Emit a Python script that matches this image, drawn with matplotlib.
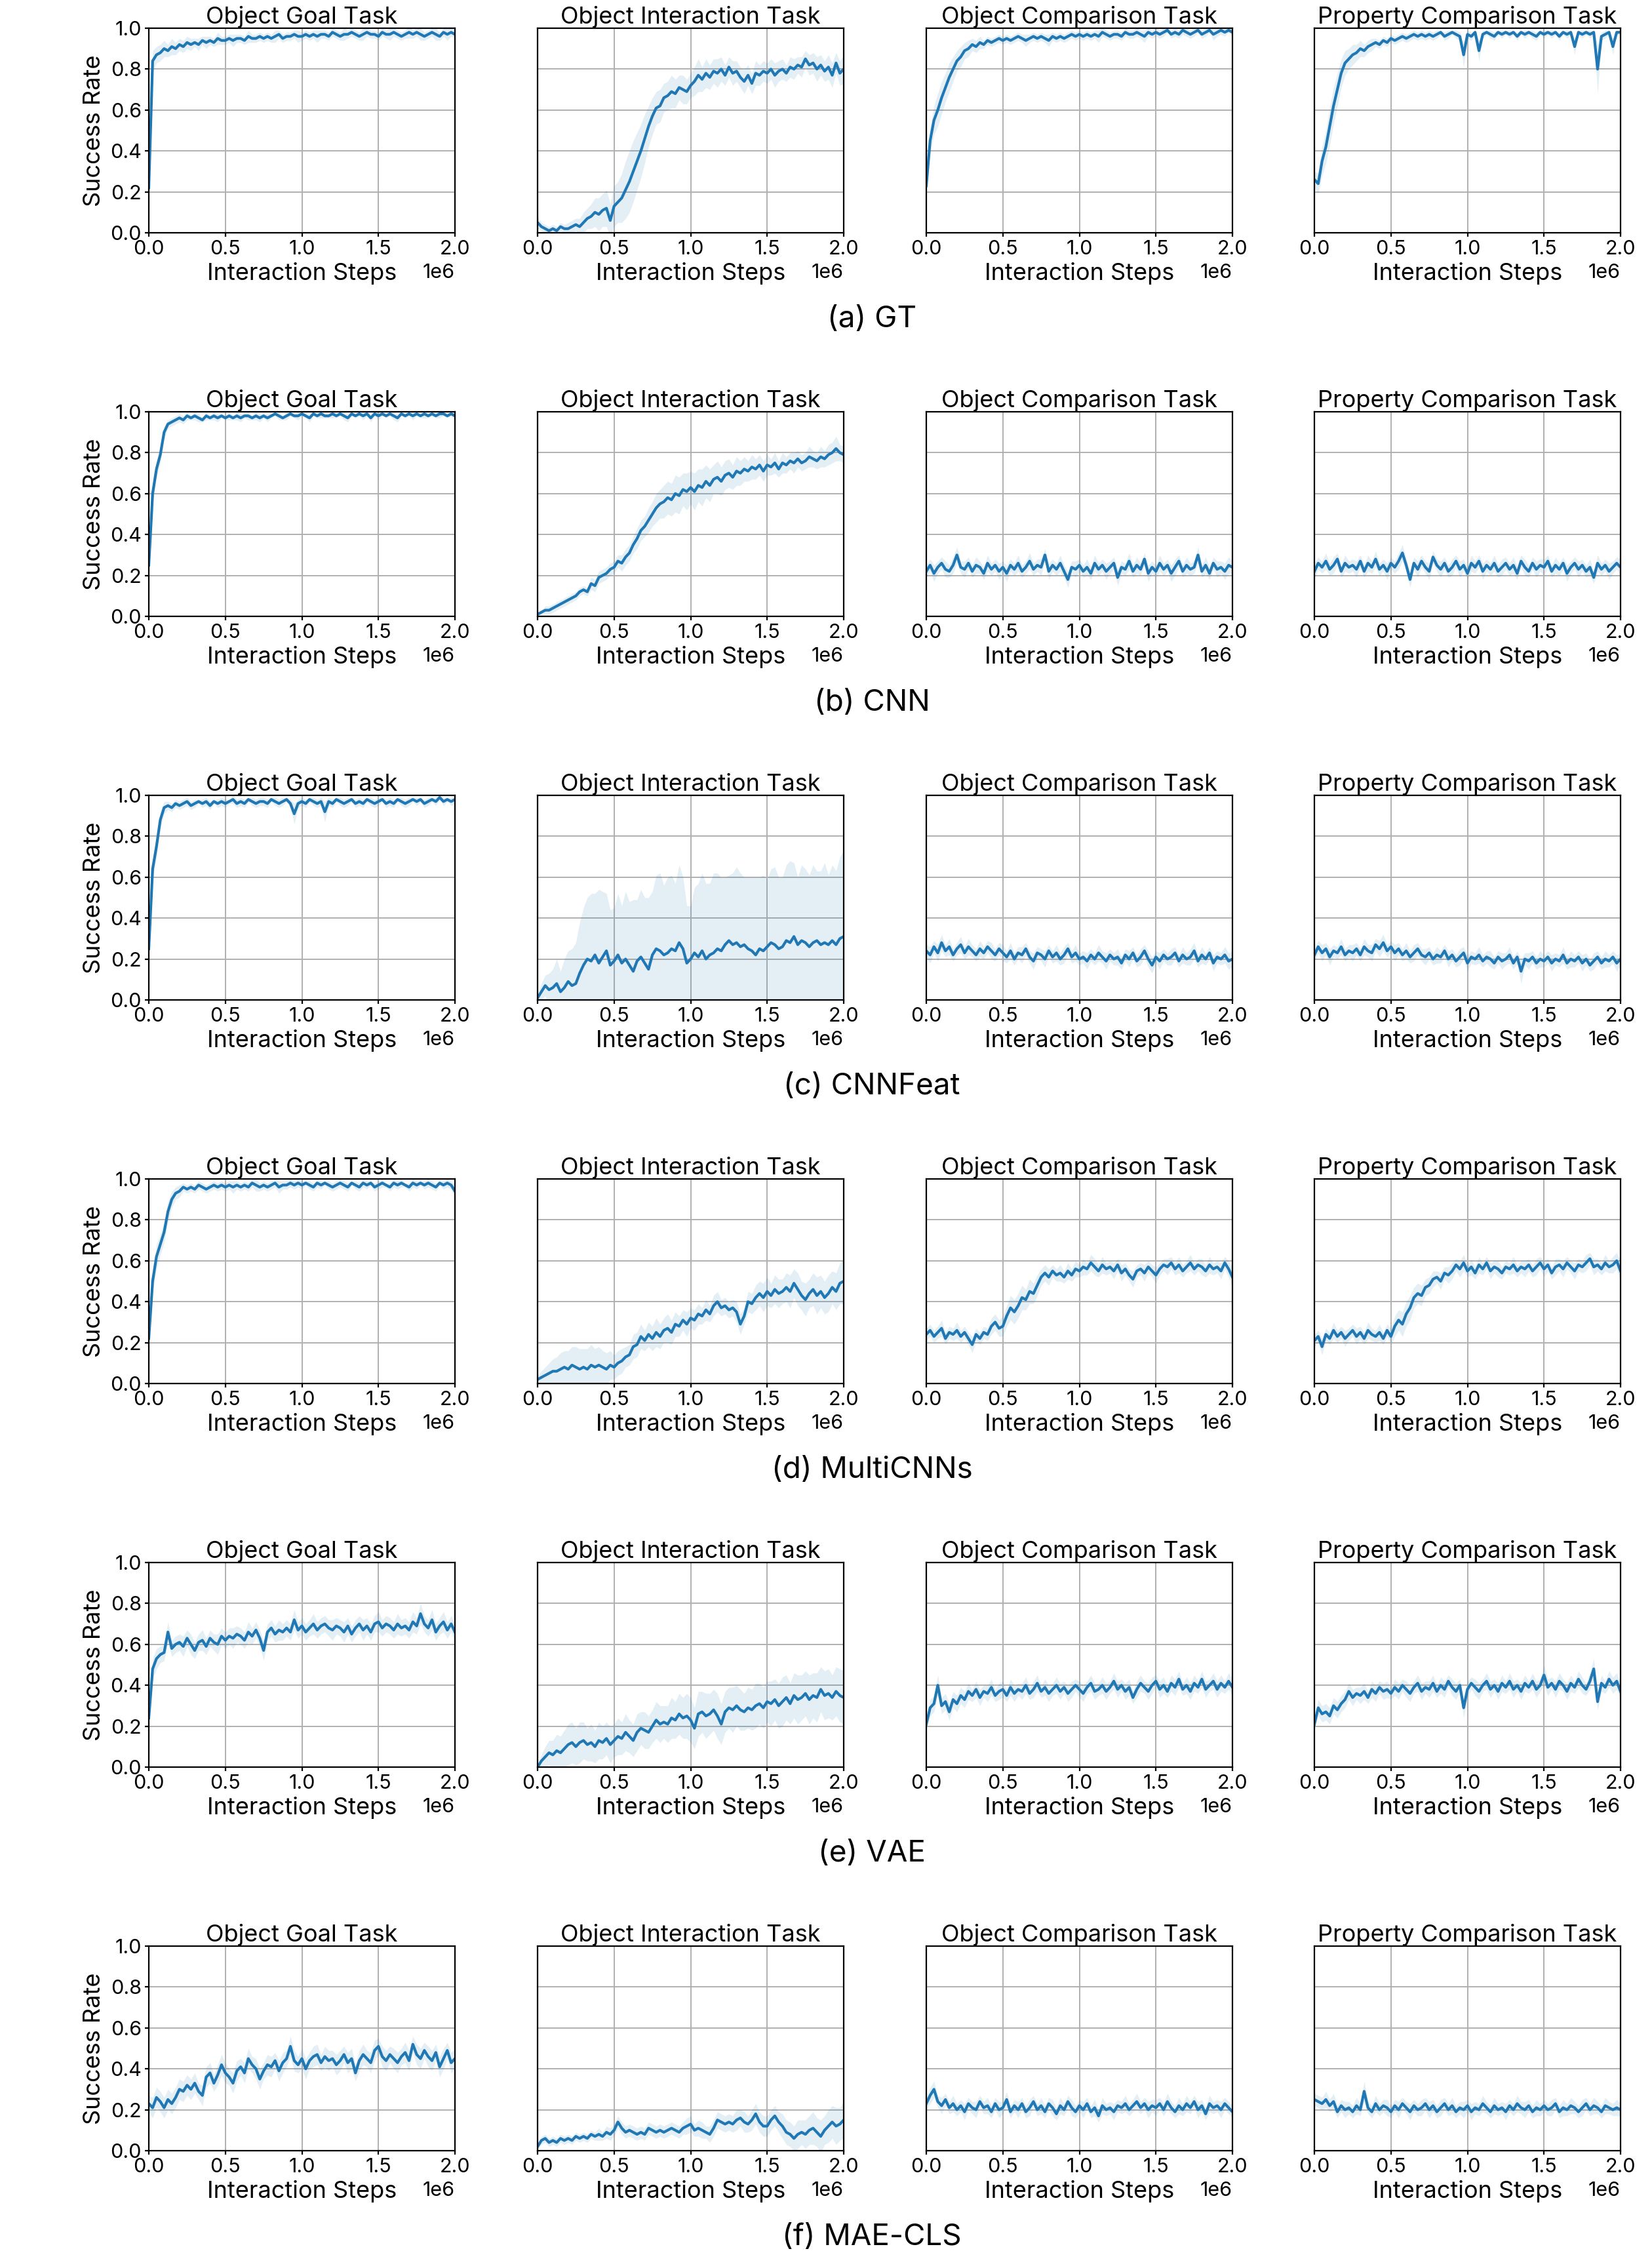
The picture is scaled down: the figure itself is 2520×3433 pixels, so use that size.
import numpy as np
import matplotlib
matplotlib.use("Agg")
import matplotlib.pyplot as plt

plt.rcParams['font.family'] = ['Inter', 'DejaVu Sans']

TASKS = ["Object Goal Task", "Object Interaction Task",
         "Object Comparison Task", "Property Comparison Task"]
MODELS = ["(a) GT", "(b) CNN", "(c) CNNFeat", "(d) MultiCNNs", "(e) VAE", "(f) MAE-CLS"]
X_MAX = 2e6
X_TICKS = [0, 0.5e6, 1.0e6, 1.5e6, 2.0e6]
Y_TICKS = [0.0, 0.2, 0.4, 0.6, 0.8, 1.0]

# ---------------- (a) GT ----------------
gt_goal = [.22,.84,.87,.88,.90,.89,.91,.90,.92,.91,
           .93,.92,.93,.92,.94,.93,.94,.93,.95,.94,
           .94,.95,.94,.95,.95,.94,.96,.95,.95,.96,
           .95,.96,.95,.96,.97,.95,.96,.96,.97,.96,
           .96,.97,.96,.97,.96,.97,.97,.96,.98,.97,
           .96,.97,.97,.98,.97,.96,.97,.98,.97,.97,
           .96,.98,.97,.97,.98,.97,.96,.97,.98,.97,
           .98,.97,.96,.97,.98,.97,.96,.98,.97,.98,
           .97]
gt_goal_sd = [.05,.05,.04,.04,.04,.03,.04,.03,.03,.03,
              .03,.03,.02,.03,.02,.03,.02,.02,.03,.02,
              .02,.02,.03,.02,.02,.02,.03,.02,.02,.02,
              .02,.02,.02,.03,.02,.02,.02,.02,.02,.03,
              .02,.02,.02,.02,.03,.02,.02,.02,.02,.02,
              .02,.03,.02,.02,.02,.02,.03,.02,.02,.02,
              .02,.02,.02,.03,.02,.02,.02,.02,.03,.02,
              .02,.03,.02,.02,.02,.03,.02,.02,.03,.02,
              .02]
gt_inter = [.05,.03,.02,.01,.02,.01,.03,.02,.02,.03,
            .04,.03,.05,.07,.08,.10,.09,.11,.12,.06,
            .13,.15,.17,.21,.25,.30,.35,.40,.46,.52,
            .57,.61,.62,.66,.67,.69,.68,.71,.70,.69,
            .72,.74,.77,.75,.78,.76,.79,.78,.80,.77,
            .81,.78,.79,.76,.74,.77,.73,.78,.77,.79,
            .78,.80,.77,.79,.80,.78,.81,.80,.82,.81,
            .85,.82,.83,.80,.82,.79,.81,.77,.83,.78,
            .80]
gt_inter_sd = [.03,.02,.02,.02,.02,.02,.02,.02,.03,.03,
               .03,.04,.05,.05,.06,.07,.08,.08,.09,.08,
               .10,.10,.12,.14,.15,.15,.14,.13,.12,.10,
               .09,.08,.08,.07,.07,.08,.07,.06,.07,.06,
               .06,.07,.08,.06,.07,.06,.06,.07,.06,.05,
               .05,.06,.05,.05,.06,.05,.05,.06,.05,.05,
               .05,.05,.06,.05,.05,.04,.05,.05,.04,.05,
               .04,.05,.05,.06,.05,.05,.06,.06,.05,.06,
               .07]
gt_objcmp = [.23,.45,.55,.60,.66,.71,.76,.80,.84,.86,
             .89,.90,.92,.91,.93,.92,.94,.93,.94,.95,
             .94,.95,.94,.95,.96,.95,.94,.95,.96,.95,
             .96,.95,.94,.96,.95,.96,.95,.96,.97,.96,
             .97,.96,.97,.96,.97,.96,.98,.97,.96,.97,
             .97,.96,.98,.97,.97,.98,.97,.96,.98,.97,
             .98,.97,.98,.99,.97,.98,.97,.99,.98,.97,
             .98,.99,.97,.98,.99,.97,.98,.99,.98,.99,
             .98]
gt_objcmp_sd = [.03,.06,.07,.08,.08,.07,.07,.06,.05,.05,
                .04,.04,.03,.03,.03,.02,.02,.02,.02,.02,
                .02,.02,.02,.02,.02,.02,.03,.02,.02,.02,
                .02,.02,.03,.02,.02,.02,.02,.02,.02,.02,
                .02,.02,.02,.02,.02,.03,.02,.02,.02,.02,
                .02,.02,.02,.02,.02,.02,.02,.03,.02,.02,
                .02,.02,.02,.01,.02,.02,.02,.02,.02,.02,
                .02,.01,.02,.02,.01,.03,.02,.02,.02,.01,
                .02]
gt_propcmp = [.26,.24,.35,.42,.52,.62,.70,.78,.83,.85,
              .87,.88,.90,.89,.91,.92,.93,.92,.94,.93,
              .95,.94,.95,.96,.95,.96,.97,.96,.97,.96,
              .97,.96,.97,.98,.96,.97,.98,.97,.96,.87,
              .97,.96,.98,.89,.97,.98,.97,.96,.98,.97,
              .98,.97,.98,.96,.98,.97,.98,.97,.96,.98,
              .97,.98,.97,.98,.96,.98,.97,.98,.91,.98,
              .97,.98,.97,.98,.80,.96,.97,.98,.91,.98,
              .98]
gt_propcmp_sd = [.04,.05,.07,.08,.09,.09,.08,.07,.06,.05,
                 .05,.04,.04,.03,.03,.03,.02,.02,.02,.02,
                 .02,.02,.02,.02,.02,.02,.02,.02,.02,.02,
                 .02,.02,.02,.01,.02,.02,.01,.02,.02,.06,
                 .02,.02,.01,.05,.02,.01,.02,.02,.01,.02,
                 .01,.02,.01,.02,.01,.02,.01,.02,.02,.01,
                 .02,.01,.02,.01,.02,.01,.02,.01,.04,.01,
                 .02,.01,.02,.01,.12,.02,.02,.01,.04,.01,
                 .01]

# ---------------- (b) CNN ----------------
cnn_goal = [.25,.60,.72,.79,.90,.94,.95,.96,.97,.96,
            .98,.97,.98,.97,.96,.98,.97,.98,.97,.98,
            .97,.98,.97,.98,.97,.98,.98,.97,.98,.97,
            .98,.97,.98,.99,.98,.97,.98,.99,.98,.98,
            .99,.98,.97,.99,.98,.99,.98,.98,.99,.98,
            .99,.98,.97,.99,.98,.99,.98,.99,.97,.99,
            .98,.99,.98,.99,.98,.97,.99,.98,.99,.98,
            .99,.98,.99,.98,.99,.98,.99,.99,.98,.99,
            .98]
cnn_goal_sd = [.03,.04,.04,.04,.03,.02,.02,.02,.02,.02,
               .02,.01,.02,.02,.01,.02,.01,.02,.02,.01,
               .01,.02,.01,.02,.02,.01,.02,.01,.02,.02,
               .01,.02,.01,.01,.02,.01,.02,.01,.01,.02,
               .01,.01,.02,.01,.01,.02,.01,.01,.02,.01,
               .01,.02,.02,.01,.01,.01,.02,.01,.02,.01,
               .02,.01,.01,.01,.02,.02,.01,.01,.01,.02,
               .01,.01,.02,.01,.01,.01,.02,.01,.01,.01,
               .02]
cnn_inter = [.01,.02,.03,.03,.04,.05,.06,.07,.08,.09,
             .10,.12,.13,.12,.16,.15,.19,.20,.21,.23,
             .24,.27,.26,.29,.31,.35,.38,.42,.44,.47,
             .50,.53,.55,.56,.58,.57,.60,.59,.62,.61,
             .63,.61,.64,.63,.66,.64,.67,.68,.66,.69,
             .70,.68,.71,.70,.72,.71,.73,.72,.74,.71,
             .74,.73,.75,.72,.75,.74,.76,.75,.77,.75,
             .76,.78,.77,.76,.78,.77,.79,.80,.82,.80,
             .79]
cnn_inter_sd = [.01,.01,.02,.02,.02,.02,.02,.02,.02,.02,
                .02,.02,.02,.02,.03,.03,.03,.03,.03,.03,
                .03,.03,.04,.04,.04,.04,.05,.05,.05,.06,
                .06,.07,.07,.08,.08,.08,.09,.09,.08,.09,
                .08,.09,.08,.09,.08,.08,.07,.08,.07,.07,
                .07,.06,.07,.06,.06,.05,.06,.05,.05,.05,
                .05,.04,.05,.04,.05,.04,.04,.05,.04,.04,
                .04,.05,.04,.04,.05,.04,.05,.05,.06,.04,
                .04]
cnn_objcmp = [.22,.25,.21,.24,.26,.23,.22,.25,.30,.24,
              .23,.26,.22,.25,.24,.21,.26,.23,.25,.22,
              .24,.21,.25,.23,.26,.22,.24,.27,.23,.25,
              .24,.30,.22,.25,.23,.26,.22,.18,.24,.23,
              .25,.22,.24,.21,.26,.23,.25,.22,.24,.26,
              .19,.24,.23,.27,.22,.25,.23,.28,.21,.24,
              .22,.26,.23,.25,.21,.24,.27,.22,.25,.23,
              .24,.30,.22,.25,.21,.26,.23,.24,.22,.25,
              .24]
cnn_objcmp_sd = [.03,.03,.04,.03,.03,.04,.03,.04,.04,.03,
                 .04,.03,.03,.04,.03,.03,.04,.03,.03,.04,
                 .03,.04,.03,.03,.04,.03,.03,.04,.03,.03,
                 .04,.03,.04,.03,.03,.04,.03,.04,.03,.04,
                 .03,.03,.04,.03,.04,.03,.03,.04,.03,.03,
                 .04,.03,.03,.04,.03,.04,.03,.03,.04,.03,
                 .03,.04,.03,.03,.04,.04,.03,.03,.04,.03,
                 .03,.04,.03,.04,.03,.03,.04,.03,.04,.04,
                 .03]
cnn_propcmp = [.22,.26,.24,.27,.23,.25,.28,.22,.26,.24,
               .25,.23,.27,.22,.26,.24,.28,.23,.25,.22,
               .26,.24,.27,.31,.25,.18,.26,.23,.27,.24,
               .22,.29,.25,.23,.26,.22,.24,.27,.23,.25,
               .21,.26,.24,.27,.22,.25,.23,.26,.22,.24,
               .26,.23,.25,.21,.27,.24,.22,.26,.23,.25,
               .24,.27,.22,.25,.23,.26,.21,.24,.26,.23,
               .25,.22,.24,.19,.26,.23,.25,.22,.24,.26,
               .24]
cnn_propcmp_sd = [.04,.03,.03,.04,.03,.04,.03,.03,.04,.03,
                  .03,.04,.03,.03,.04,.03,.04,.03,.03,.04,
                  .03,.03,.04,.04,.03,.04,.03,.04,.03,.03,
                  .04,.03,.03,.04,.03,.03,.04,.03,.04,.03,
                  .03,.04,.03,.03,.04,.03,.03,.04,.03,.04,
                  .03,.03,.04,.03,.03,.04,.03,.03,.04,.03,
                  .04,.03,.03,.04,.03,.03,.04,.03,.03,.04,
                  .03,.03,.04,.03,.04,.03,.03,.04,.03,.03,
                  .04]

# ---------------- (c) CNNFeat ----------------
feat_goal = [.25,.64,.75,.88,.94,.95,.94,.96,.95,.96,
             .97,.95,.96,.97,.96,.97,.95,.97,.96,.97,
             .96,.97,.98,.96,.97,.96,.98,.97,.96,.97,
             .97,.96,.98,.97,.96,.97,.98,.96,.91,.96,
             .97,.96,.98,.97,.96,.97,.92,.97,.96,.98,
             .97,.96,.97,.98,.96,.97,.96,.98,.97,.96,
             .97,.98,.96,.97,.96,.98,.97,.96,.97,.98,
             .97,.98,.96,.97,.98,.97,.99,.97,.98,.97,
             .98]
feat_goal_sd = [.03,.05,.05,.04,.03,.02,.02,.02,.02,.02,
                .02,.02,.02,.01,.02,.02,.02,.01,.02,.02,
                .02,.01,.02,.02,.02,.02,.01,.02,.02,.02,
                .02,.02,.01,.02,.02,.02,.01,.02,.05,.02,
                .02,.02,.01,.02,.02,.02,.05,.02,.02,.01,
                .02,.02,.02,.01,.02,.02,.02,.01,.02,.02,
                .02,.01,.02,.02,.02,.01,.02,.02,.02,.01,
                .02,.01,.02,.02,.01,.02,.01,.02,.01,.02,
                .02]
feat_inter = [.01,.04,.07,.05,.06,.08,.04,.06,.09,.07,
              .08,.13,.17,.20,.19,.22,.18,.21,.24,.17,
              .19,.22,.18,.20,.17,.14,.19,.21,.18,.15,
              .22,.25,.24,.22,.23,.25,.24,.28,.25,.18,
              .20,.23,.21,.24,.20,.22,.23,.25,.24,.27,
              .29,.27,.28,.26,.27,.25,.24,.22,.25,.24,
              .26,.28,.27,.25,.26,.29,.28,.31,.27,.29,
              .28,.26,.28,.29,.27,.28,.27,.29,.27,.30,
              .31]
feat_inter_sd = [.02,.04,.05,.08,.09,.12,.10,.14,.15,.18,
                 .20,.25,.28,.30,.33,.30,.36,.32,.28,.27,
                 .26,.30,.28,.33,.31,.35,.30,.33,.32,.35,
                 .31,.36,.38,.34,.37,.36,.33,.38,.35,.28,
                 .26,.32,.36,.38,.37,.35,.39,.37,.36,.33,
                 .32,.35,.37,.36,.33,.35,.36,.38,.35,.37,
                 .33,.36,.38,.35,.34,.37,.40,.36,.33,.37,
                 .36,.35,.38,.34,.36,.39,.34,.37,.36,.40,
                 .42]
feat_objcmp = [.24,.22,.26,.23,.28,.24,.26,.22,.25,.27,
               .23,.26,.24,.22,.25,.23,.26,.24,.22,.25,
               .23,.21,.24,.20,.23,.22,.25,.21,.19,.23,
               .22,.20,.24,.21,.23,.20,.22,.25,.21,.23,
               .20,.21,.19,.22,.20,.23,.21,.19,.22,.20,
               .21,.18,.22,.20,.23,.19,.21,.24,.20,.17,
               .21,.19,.22,.20,.21,.23,.19,.22,.20,.21,
               .24,.19,.22,.20,.23,.18,.21,.20,.22,.19,
               .20]
feat_objcmp_sd = [.03,.04,.03,.04,.04,.03,.04,.03,.03,.04,
                  .03,.04,.03,.03,.04,.03,.03,.04,.03,.03,
                  .04,.03,.04,.03,.03,.04,.03,.03,.04,.03,
                  .03,.04,.03,.03,.04,.03,.04,.03,.03,.04,
                  .03,.03,.04,.03,.03,.04,.03,.04,.03,.03,
                  .04,.03,.03,.04,.03,.03,.04,.03,.04,.04,
                  .03,.04,.03,.03,.04,.03,.03,.04,.03,.04,
                  .04,.03,.04,.03,.03,.04,.03,.03,.04,.04,
                  .04]
feat_propcmp = [.22,.26,.23,.25,.21,.24,.23,.26,.22,.24,
                .23,.25,.22,.26,.24,.23,.27,.25,.28,.24,
                .26,.23,.25,.22,.24,.21,.23,.25,.22,.21,
                .23,.20,.22,.21,.24,.20,.22,.19,.21,.23,
                .18,.21,.20,.22,.19,.21,.20,.18,.21,.19,
                .20,.22,.18,.21,.14,.20,.19,.21,.18,.20,
                .19,.21,.18,.20,.19,.22,.18,.20,.19,.21,
                .18,.20,.17,.19,.21,.18,.20,.19,.21,.18,
                .20]
feat_propcmp_sd = [.03,.03,.04,.03,.04,.03,.03,.04,.03,.03,
                   .04,.03,.03,.04,.03,.04,.03,.04,.04,.03,
                   .03,.04,.03,.03,.04,.03,.04,.03,.03,.04,
                   .03,.03,.04,.03,.03,.04,.03,.03,.04,.03,
                   .04,.03,.03,.04,.03,.03,.04,.03,.03,.04,
                   .03,.04,.03,.03,.06,.03,.04,.03,.03,.04,
                   .03,.03,.04,.03,.03,.04,.03,.04,.03,.03,
                   .04,.03,.03,.04,.03,.03,.04,.03,.03,.04,
                   .03]

# ---------------- (d) MultiCNNs ----------------
multi_goal = [.22,.50,.62,.68,.74,.84,.90,.93,.94,.96,
              .95,.96,.95,.97,.96,.95,.96,.97,.96,.97,
              .96,.97,.96,.97,.96,.97,.96,.98,.97,.96,
              .97,.96,.97,.98,.96,.97,.97,.98,.97,.98,
              .97,.98,.97,.96,.98,.97,.98,.97,.96,.97,
              .98,.97,.96,.98,.97,.96,.98,.97,.98,.96,
              .97,.98,.97,.96,.98,.97,.98,.97,.96,.98,
              .97,.98,.97,.98,.97,.96,.98,.97,.98,.97,
              .94]
multi_goal_sd = [.04,.05,.06,.05,.05,.05,.04,.03,.03,.02,
                 .02,.02,.02,.02,.02,.02,.02,.02,.02,.02,
                 .02,.02,.03,.02,.02,.02,.02,.02,.03,.02,
                 .02,.02,.02,.02,.03,.02,.02,.02,.02,.02,
                 .02,.01,.02,.02,.02,.02,.01,.02,.02,.02,
                 .02,.02,.02,.01,.02,.02,.02,.02,.01,.02,
                 .02,.02,.01,.02,.02,.02,.02,.01,.02,.02,
                 .02,.01,.02,.02,.02,.02,.01,.02,.02,.02,
                 .03]
multi_inter = [.02,.03,.04,.05,.06,.06,.07,.08,.07,.09,
               .08,.07,.08,.07,.09,.08,.09,.08,.07,.09,
               .08,.10,.11,.13,.14,.18,.19,.23,.21,.24,
               .22,.25,.23,.26,.27,.25,.29,.28,.31,.29,
               .32,.31,.34,.33,.36,.34,.38,.40,.37,.38,
               .36,.37,.35,.29,.33,.40,.39,.42,.44,.42,
               .45,.43,.46,.44,.45,.47,.45,.49,.46,.43,
               .41,.44,.46,.43,.45,.42,.44,.47,.45,.49,
               .50]
multi_inter_sd = [.02,.03,.04,.05,.06,.07,.08,.08,.09,.09,
                  .10,.10,.09,.10,.10,.09,.09,.08,.08,.07,
                  .06,.06,.06,.05,.05,.06,.06,.06,.05,.06,
                  .06,.07,.06,.06,.07,.06,.06,.05,.05,.06,
                  .05,.05,.05,.04,.05,.04,.05,.05,.04,.04,
                  .04,.04,.05,.05,.04,.05,.05,.06,.06,.07,
                  .07,.06,.07,.07,.06,.07,.08,.07,.08,.07,
                  .08,.07,.08,.09,.08,.08,.09,.08,.09,.10,
                  .11]
multi_objcmp = [.24,.26,.23,.25,.27,.22,.25,.24,.26,.23,
                .25,.22,.19,.24,.22,.25,.24,.28,.30,.27,
                .28,.33,.37,.35,.38,.42,.41,.45,.44,.48,
                .52,.54,.52,.55,.53,.54,.52,.55,.53,.56,
                .55,.57,.56,.59,.57,.55,.58,.56,.57,.55,
                .58,.54,.56,.53,.51,.55,.56,.54,.57,.55,
                .53,.56,.58,.57,.59,.56,.58,.55,.57,.59,
                .56,.58,.57,.55,.58,.56,.57,.55,.59,.56,
                .52]
multi_objcmp_sd = [.03,.03,.03,.03,.04,.03,.03,.03,.04,.03,
                   .03,.03,.04,.03,.03,.03,.03,.04,.04,.04,
                   .05,.05,.06,.06,.06,.06,.05,.06,.05,.05,
                   .04,.04,.04,.03,.03,.04,.03,.04,.03,.04,
                   .03,.04,.03,.04,.04,.03,.04,.03,.03,.04,
                   .03,.04,.03,.03,.04,.03,.03,.04,.03,.03,
                   .04,.03,.03,.04,.03,.03,.04,.03,.03,.04,
                   .03,.03,.04,.03,.04,.03,.03,.04,.03,.04,
                   .05]
multi_propcmp = [.21,.23,.18,.24,.22,.26,.23,.25,.22,.24,
                 .26,.23,.25,.22,.26,.24,.23,.25,.22,.26,
                 .23,.28,.31,.29,.34,.37,.42,.44,.43,.47,
                 .48,.51,.52,.50,.54,.53,.55,.58,.56,.59,
                 .55,.57,.54,.58,.56,.59,.55,.57,.56,.54,
                 .57,.56,.58,.55,.57,.56,.58,.55,.57,.59,
                 .56,.58,.54,.57,.58,.56,.59,.57,.55,.58,
                 .57,.59,.61,.57,.58,.56,.59,.57,.58,.60,
                 .55]
multi_propcmp_sd = [.03,.03,.04,.03,.03,.04,.03,.03,.04,.03,
                    .03,.04,.03,.03,.04,.03,.03,.04,.03,.03,
                    .04,.05,.05,.06,.06,.06,.05,.05,.05,.04,
                    .04,.04,.03,.04,.03,.04,.04,.03,.04,.04,
                    .03,.04,.03,.04,.03,.03,.04,.03,.04,.03,
                    .03,.03,.04,.03,.03,.04,.03,.03,.04,.03,
                    .04,.03,.03,.04,.03,.04,.03,.03,.04,.03,
                    .03,.04,.03,.04,.03,.03,.04,.03,.04,.04,
                    .05]

# ---------------- (e) VAE ----------------
vae_goal = [.24,.48,.53,.55,.56,.66,.58,.60,.61,.59,
            .63,.60,.57,.61,.62,.59,.63,.61,.60,.64,
            .62,.64,.63,.65,.64,.62,.66,.64,.67,.63,
            .57,.66,.68,.65,.67,.66,.68,.66,.72,.67,
            .69,.66,.68,.70,.67,.69,.70,.68,.67,.69,
            .68,.66,.69,.65,.68,.70,.67,.69,.66,.70,
            .71,.68,.70,.69,.67,.70,.68,.69,.67,.71,
            .69,.75,.70,.68,.72,.66,.69,.71,.67,.70,
            .66]
vae_goal_sd = [.03,.05,.05,.04,.04,.05,.04,.04,.04,.05,
               .04,.05,.04,.04,.05,.04,.04,.04,.05,.04,
               .04,.04,.05,.04,.04,.04,.05,.04,.04,.04,
               .05,.04,.04,.04,.05,.04,.04,.04,.05,.04,
               .04,.04,.04,.05,.04,.04,.04,.04,.05,.04,
               .04,.05,.04,.04,.04,.04,.05,.04,.04,.04,
               .05,.04,.04,.04,.04,.05,.04,.04,.04,.05,
               .04,.05,.04,.04,.05,.04,.04,.05,.04,.04,
               .04]
vae_inter = [.00,.03,.05,.07,.06,.08,.07,.09,.11,.12,
             .10,.12,.13,.11,.12,.10,.13,.12,.14,.11,
             .13,.15,.14,.17,.15,.13,.17,.19,.18,.17,
             .20,.23,.21,.22,.21,.24,.23,.26,.24,.25,
             .23,.19,.26,.27,.25,.26,.28,.25,.21,.27,
             .29,.28,.30,.28,.27,.29,.28,.30,.31,.29,
             .32,.31,.33,.30,.32,.34,.31,.35,.33,.34,
             .36,.33,.35,.34,.38,.35,.36,.34,.37,.35,
             .34]
vae_inter_sd = [.01,.03,.05,.06,.07,.08,.08,.09,.10,.10,
                .09,.10,.09,.08,.09,.08,.09,.08,.08,.09,
                .08,.09,.08,.09,.08,.08,.09,.08,.09,.08,
                .08,.09,.09,.08,.09,.10,.09,.10,.10,.11,
                .11,.10,.11,.10,.11,.10,.10,.11,.10,.10,
                .10,.11,.10,.10,.09,.10,.10,.11,.10,.10,
                .10,.11,.10,.11,.12,.11,.10,.11,.12,.11,
                .11,.12,.11,.12,.11,.12,.12,.11,.12,.13,
                .13]
vae_objcmp = [.21,.29,.31,.40,.30,.32,.27,.33,.31,.35,
              .33,.37,.35,.38,.34,.37,.36,.39,.35,.37,
              .38,.35,.39,.36,.38,.37,.40,.36,.38,.41,
              .37,.39,.36,.38,.40,.37,.39,.36,.38,.40,
              .38,.36,.39,.41,.37,.38,.40,.37,.39,.42,
              .38,.40,.37,.39,.34,.38,.41,.39,.37,.40,
              .42,.38,.40,.37,.41,.39,.43,.38,.40,.37,
              .41,.39,.43,.38,.40,.42,.38,.41,.39,.42,
              .39]
vae_objcmp_sd = [.02,.04,.04,.05,.04,.04,.04,.04,.04,.04,
                 .04,.04,.03,.04,.04,.03,.04,.04,.03,.04,
                 .04,.03,.04,.04,.03,.04,.04,.03,.04,.04,
                 .03,.04,.04,.03,.04,.04,.03,.04,.04,.03,
                 .04,.04,.03,.04,.04,.03,.04,.04,.03,.04,
                 .04,.03,.04,.04,.03,.04,.04,.03,.04,.04,
                 .03,.04,.04,.03,.04,.04,.04,.03,.04,.04,
                 .04,.03,.04,.04,.03,.04,.04,.04,.03,.04,
                 .04]
vae_propcmp = [.21,.29,.26,.27,.25,.30,.28,.31,.33,.37,
               .34,.36,.35,.37,.34,.38,.36,.39,.37,.38,
               .36,.39,.37,.40,.38,.36,.39,.41,.37,.39,
               .38,.41,.37,.40,.38,.42,.39,.37,.40,.29,
               .38,.41,.39,.37,.40,.42,.38,.40,.37,.41,
               .39,.42,.38,.40,.37,.41,.39,.42,.38,.40,
               .45,.39,.41,.38,.42,.40,.37,.41,.39,.43,
               .40,.38,.42,.48,.32,.41,.39,.43,.40,.42,
               .37]
vae_propcmp_sd = [.02,.04,.04,.04,.04,.04,.04,.04,.04,.04,
                  .04,.03,.04,.04,.03,.04,.04,.03,.04,.04,
                  .03,.04,.04,.03,.04,.04,.03,.04,.04,.03,
                  .04,.04,.03,.04,.04,.03,.04,.04,.03,.05,
                  .04,.03,.04,.04,.03,.04,.04,.03,.04,.04,
                  .03,.04,.04,.03,.04,.04,.03,.04,.04,.03,
                  .05,.04,.03,.04,.04,.03,.04,.04,.03,.04,
                  .04,.03,.04,.05,.04,.04,.03,.04,.04,.04,
                  .04]

# ---------------- (f) MAE-CLS ----------------
mae_goal = [.23,.21,.26,.24,.21,.25,.23,.26,.30,.29,
            .32,.30,.33,.29,.27,.36,.38,.33,.37,.42,
            .38,.36,.33,.39,.41,.38,.45,.42,.40,.35,
            .39,.42,.41,.44,.39,.43,.45,.51,.44,.42,
            .45,.40,.44,.46,.47,.43,.46,.44,.45,.42,
            .44,.47,.43,.45,.38,.44,.47,.45,.43,.49,
            .51,.46,.44,.47,.45,.43,.46,.48,.44,.52,
            .47,.45,.49,.46,.44,.48,.41,.45,.49,.43,
            .45]
mae_goal_sd = [.04,.05,.05,.05,.05,.05,.05,.05,.05,.05,
               .05,.05,.05,.04,.05,.05,.05,.04,.05,.05,
               .05,.04,.05,.05,.04,.05,.05,.04,.05,.05,
               .04,.05,.05,.04,.05,.05,.04,.05,.05,.04,
               .05,.05,.04,.05,.05,.04,.05,.05,.04,.05,
               .05,.04,.05,.05,.04,.05,.05,.04,.05,.05,
               .04,.05,.05,.04,.05,.05,.04,.05,.05,.04,
               .05,.05,.04,.05,.05,.04,.05,.05,.04,.05,
               .05]
mae_inter = [.02,.05,.06,.04,.05,.04,.06,.05,.06,.05,
             .07,.06,.07,.06,.08,.07,.08,.07,.09,.08,
             .10,.14,.11,.09,.10,.09,.08,.09,.08,.11,
             .10,.09,.10,.09,.10,.11,.10,.09,.11,.12,
             .13,.10,.11,.10,.09,.08,.11,.15,.14,.13,
             .14,.13,.15,.16,.14,.13,.15,.18,.14,.12,
             .12,.15,.17,.14,.12,.09,.08,.06,.08,.09,
             .08,.10,.11,.09,.07,.10,.12,.14,.12,.13,
             .15]
mae_inter_sd = [.01,.02,.02,.02,.02,.02,.02,.02,.02,.02,
                .02,.02,.02,.02,.02,.02,.03,.02,.03,.03,
                .03,.03,.03,.03,.03,.03,.03,.03,.03,.03,
                .03,.03,.03,.03,.03,.03,.03,.03,.03,.04,
                .04,.03,.04,.04,.03,.04,.04,.04,.04,.04,
                .04,.04,.05,.04,.05,.04,.05,.05,.05,.05,
                .05,.05,.05,.05,.06,.06,.06,.06,.07,.06,
                .07,.07,.08,.07,.08,.07,.08,.08,.09,.08,
                .09]
mae_objcmp = [.23,.27,.30,.24,.22,.25,.21,.23,.20,.22,
              .19,.23,.21,.20,.24,.21,.22,.19,.23,.20,
              .21,.25,.19,.22,.20,.23,.19,.21,.24,.20,
              .22,.19,.23,.21,.18,.22,.20,.24,.21,.19,
              .22,.20,.23,.19,.21,.17,.22,.20,.21,.19,
              .22,.21,.23,.20,.22,.24,.21,.23,.20,.22,
              .21,.23,.20,.24,.21,.19,.22,.20,.23,.21,
              .24,.20,.22,.18,.23,.21,.22,.20,.23,.21,
              .19]
mae_objcmp_sd = [.03,.04,.04,.03,.04,.03,.03,.04,.03,.03,
                 .04,.03,.03,.04,.03,.03,.04,.03,.03,.04,
                 .03,.04,.03,.03,.04,.03,.03,.04,.03,.03,
                 .04,.03,.03,.04,.03,.04,.03,.03,.04,.03,
                 .03,.04,.03,.03,.04,.03,.04,.03,.03,.04,
                 .03,.03,.04,.03,.03,.04,.03,.03,.04,.03,
                 .04,.03,.03,.04,.03,.03,.04,.03,.04,.03,
                 .03,.04,.03,.03,.04,.03,.03,.04,.03,.03,
                 .03]
mae_propcmp = [.25,.24,.23,.25,.22,.24,.19,.22,.20,.21,
               .19,.22,.20,.29,.21,.19,.23,.20,.22,.21,
               .19,.22,.20,.23,.21,.19,.22,.20,.21,.23,
               .20,.22,.19,.21,.23,.20,.22,.19,.21,.20,
               .22,.19,.21,.20,.23,.21,.19,.22,.20,.21,
               .19,.22,.20,.23,.21,.20,.22,.19,.21,.20,
               .22,.20,.21,.23,.19,.21,.20,.22,.21,.19,
               .21,.23,.20,.22,.21,.19,.22,.21,.20,.21,
               .20]
mae_propcmp_sd = [.03,.03,.03,.04,.03,.04,.03,.03,.04,.03,
                  .03,.04,.03,.05,.03,.03,.04,.03,.03,.04,
                  .03,.03,.04,.03,.03,.04,.03,.03,.04,.03,
                  .04,.03,.03,.04,.03,.03,.04,.03,.03,.04,
                  .03,.04,.03,.03,.04,.03,.03,.04,.03,.03,
                  .04,.03,.03,.04,.03,.04,.03,.03,.04,.03,
                  .03,.03,.04,.03,.03,.04,.03,.04,.03,.03,
                  .04,.03,.03,.04,.03,.03,.04,.03,.03,.04,
                  .03]

MEANS = [[gt_goal, gt_inter, gt_objcmp, gt_propcmp],
         [cnn_goal, cnn_inter, cnn_objcmp, cnn_propcmp],
         [feat_goal, feat_inter, feat_objcmp, feat_propcmp],
         [multi_goal, multi_inter, multi_objcmp, multi_propcmp],
         [vae_goal, vae_inter, vae_objcmp, vae_propcmp],
         [mae_goal, mae_inter, mae_objcmp, mae_propcmp]]
STDS = [[gt_goal_sd, gt_inter_sd, gt_objcmp_sd, gt_propcmp_sd],
        [cnn_goal_sd, cnn_inter_sd, cnn_objcmp_sd, cnn_propcmp_sd],
        [feat_goal_sd, feat_inter_sd, feat_objcmp_sd, feat_propcmp_sd],
        [multi_goal_sd, multi_inter_sd, multi_objcmp_sd, multi_propcmp_sd],
        [vae_goal_sd, vae_inter_sd, vae_objcmp_sd, vae_propcmp_sd],
        [mae_goal_sd, mae_inter_sd, mae_objcmp_sd, mae_propcmp_sd]]

bad = []
for r in range(6):
    for c in range(4):
        if len(MEANS[r][c]) != len(STDS[r][c]):
            bad.append((r, c, len(MEANS[r][c]), len(STDS[r][c])))
assert not bad, f"length mismatch: {bad}"

W_PX, H_PX = 2520, 3433
fig = plt.figure(figsize=(W_PX / 200, H_PX / 200), dpi=200)

AX_W, AX_H = 467, 312
LEFTS = [227, 820, 1413, 2005]
TOPS = [43 + 585 * i for i in range(6)]
BLUE = '#1f77b4'

for r, model in enumerate(MODELS):
    for c in range(4):
        ax = fig.add_axes([LEFTS[c] / W_PX, 1 - (TOPS[r] + AX_H) / H_PX,
                           AX_W / W_PX, AX_H / H_PX])
        m = np.asarray(MEANS[r][c], dtype=float)
        s = np.asarray(STDS[r][c], dtype=float)
        x = np.linspace(0, X_MAX, len(m))
        ax.fill_between(x, m - s, m + s, color=BLUE, alpha=0.12, lw=0)
        ax.plot(x, m, color=BLUE, lw=1.5)
        ax.set_xlim(0, X_MAX)
        ax.set_ylim(0, 1)
        ax.set_xticks(X_TICKS)
        ax.set_yticks(Y_TICKS)
        ax.grid(True, color='#b0b0b0', lw=0.7)
        ax.set_axisbelow(True)
        ax.set_title(TASKS[c], fontsize=13, pad=2.5)
        ax.set_xlabel('Interaction Steps', fontsize=13, labelpad=2)
        ax.tick_params(labelsize=11, length=2, pad=2)
        ax.xaxis.get_offset_text().set_fontsize(11)
        for sp in ax.spines.values():
            sp.set_color('black')
            sp.set_linewidth(0.8)
        if c == 0:
            ax.set_ylabel('Success Rate', fontsize=13, labelpad=3)
        else:
            ax.tick_params(axis='y', left=False, labelleft=False)
    fig.text(1330 / W_PX, 1 - (487 + 585 * r) / H_PX, model,
             ha='center', va='center', fontsize=16.5)

fig.savefig('out.png', dpi=200)
